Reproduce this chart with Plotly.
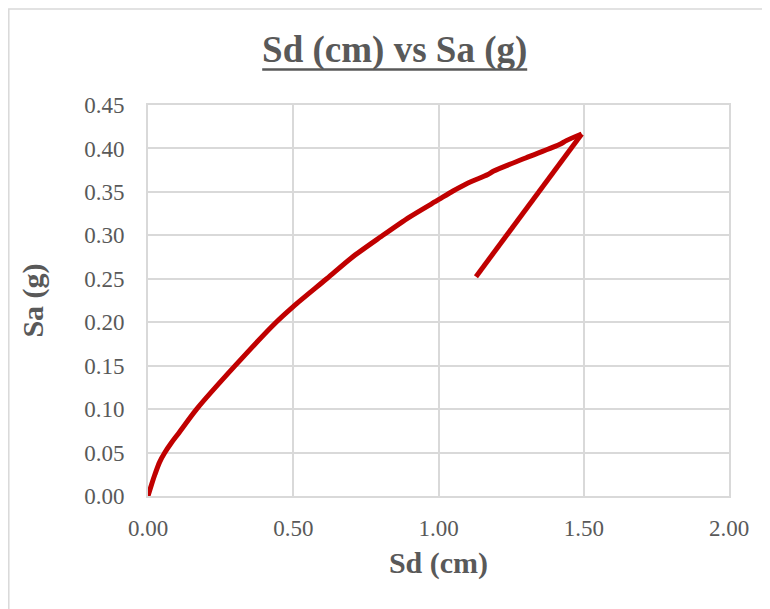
import plotly.graph_objects as go

sd_cm = [0.0, 0.012, 0.024, 0.04, 0.058, 0.08, 0.105, 0.1675, 0.30, 0.435, 0.50,
         0.615, 0.70, 0.80, 0.90, 1.0, 1.05, 1.10, 1.17, 1.19, 1.30, 1.42, 1.44,
         1.493, 1.129]
sa_g = [0.0, 0.013, 0.025, 0.039, 0.05, 0.061, 0.072, 0.10, 0.15, 0.198, 0.218,
        0.25, 0.274, 0.298, 0.321, 0.341, 0.351, 0.36, 0.37, 0.374, 0.389, 0.405, 0.409,
        0.4166, 0.2524]

x_ticks = [0.0, 0.5, 1.0, 1.5, 2.0]
y_ticks = [0.0, 0.05, 0.10, 0.15, 0.20, 0.25, 0.30, 0.35, 0.40, 0.45]

# the page body has an 8px margin; positions below are in figure pixels
W, H = 770, 609
L, R, T, B = 140, 721, 97, 488
pw, ph = R - L, B - T

font_fam = "Liberation Serif, Times New Roman, serif"
gray = "#595959"
grid = "#d9d9d9"
red = "#c00000"

peak = sa_g.index(max(sa_g))

fig = go.Figure()
# loading branch (smoothed like the spreadsheet line)
fig.add_trace(go.Scatter(
    x=sd_cm[:peak + 1], y=sa_g[:peak + 1], mode="lines",
    line=dict(color=red, width=5, shape="spline", smoothing=0.8),
    showlegend=False, hoverinfo="skip"))
# unloading branch
fig.add_trace(go.Scatter(
    x=sd_cm[peak:], y=sa_g[peak:], mode="lines",
    line=dict(color=red, width=5),
    showlegend=False, hoverinfo="skip"))

title_cx = 386.7
fig.update_layout(
    width=W, height=H,
    margin=dict(l=L, r=W - R, t=T, b=H - B, pad=0),
    paper_bgcolor="white", plot_bgcolor="white",
    font=dict(family=font_fam, color=gray),
    title=dict(text="<b>Sd (cm) vs Sa (g)</b>",
               font=dict(size=37, color=gray, family=font_fam),
               x=(title_cx - L) / pw, xref="paper", xanchor="center",
               y=1 - 54 / H, yref="container", yanchor="bottom"),
    xaxis=dict(range=[0, 2.0], tickvals=x_ticks,
               ticktext=[f"{v:.2f}" for v in x_ticks],
               showgrid=True, gridcolor=grid, gridwidth=1.8,
               zeroline=False, showline=True, linecolor=grid, linewidth=1.8,
               mirror=True, ticks="", ticklabelstandoff=10,
               tickfont=dict(size=23, color=gray, family=font_fam),
               title=dict(text="<b>Sd (cm)</b>", standoff=12,
                          font=dict(size=30, color=gray, family=font_fam)),
               automargin=False),
    yaxis=dict(range=[0, 0.45], tickvals=y_ticks,
               ticktext=[f"{v:.2f}" for v in y_ticks],
               showgrid=True, gridcolor=grid, gridwidth=1.8,
               zeroline=False, showline=True, linecolor=grid, linewidth=1.8,
               mirror=True, ticks="", ticklabelstandoff=17,
               tickfont=dict(size=23, color=gray, family=font_fam),
               title=dict(text="<b>Sa (g)</b>", standoff=32,
                          font=dict(size=30, color=gray, family=font_fam)),
               automargin=False),
)

# title underline (continuous, under the descenders)
fig.add_shape(type="line", xref="paper", yref="paper",
              x0=(title_cx - 132.5 - L) / pw, x1=(title_cx + 132.5 - L) / pw,
              y0=(B - 61.5) / ph, y1=(B - 61.5) / ph,
              line=dict(color=gray, width=2.5))

# chart-area border (extends beyond the visible window at right/bottom)
fig.add_shape(type="rect", xref="paper", yref="paper",
              x0=(0.8 - L) / pw, x1=(800 - L) / pw,
              y0=(B - 640) / ph, y1=(B - 1) / ph,
              line=dict(color=grid, width=1.5), fillcolor="rgba(0,0,0,0)",
              layer="below")

fig.write_html("out.html")
